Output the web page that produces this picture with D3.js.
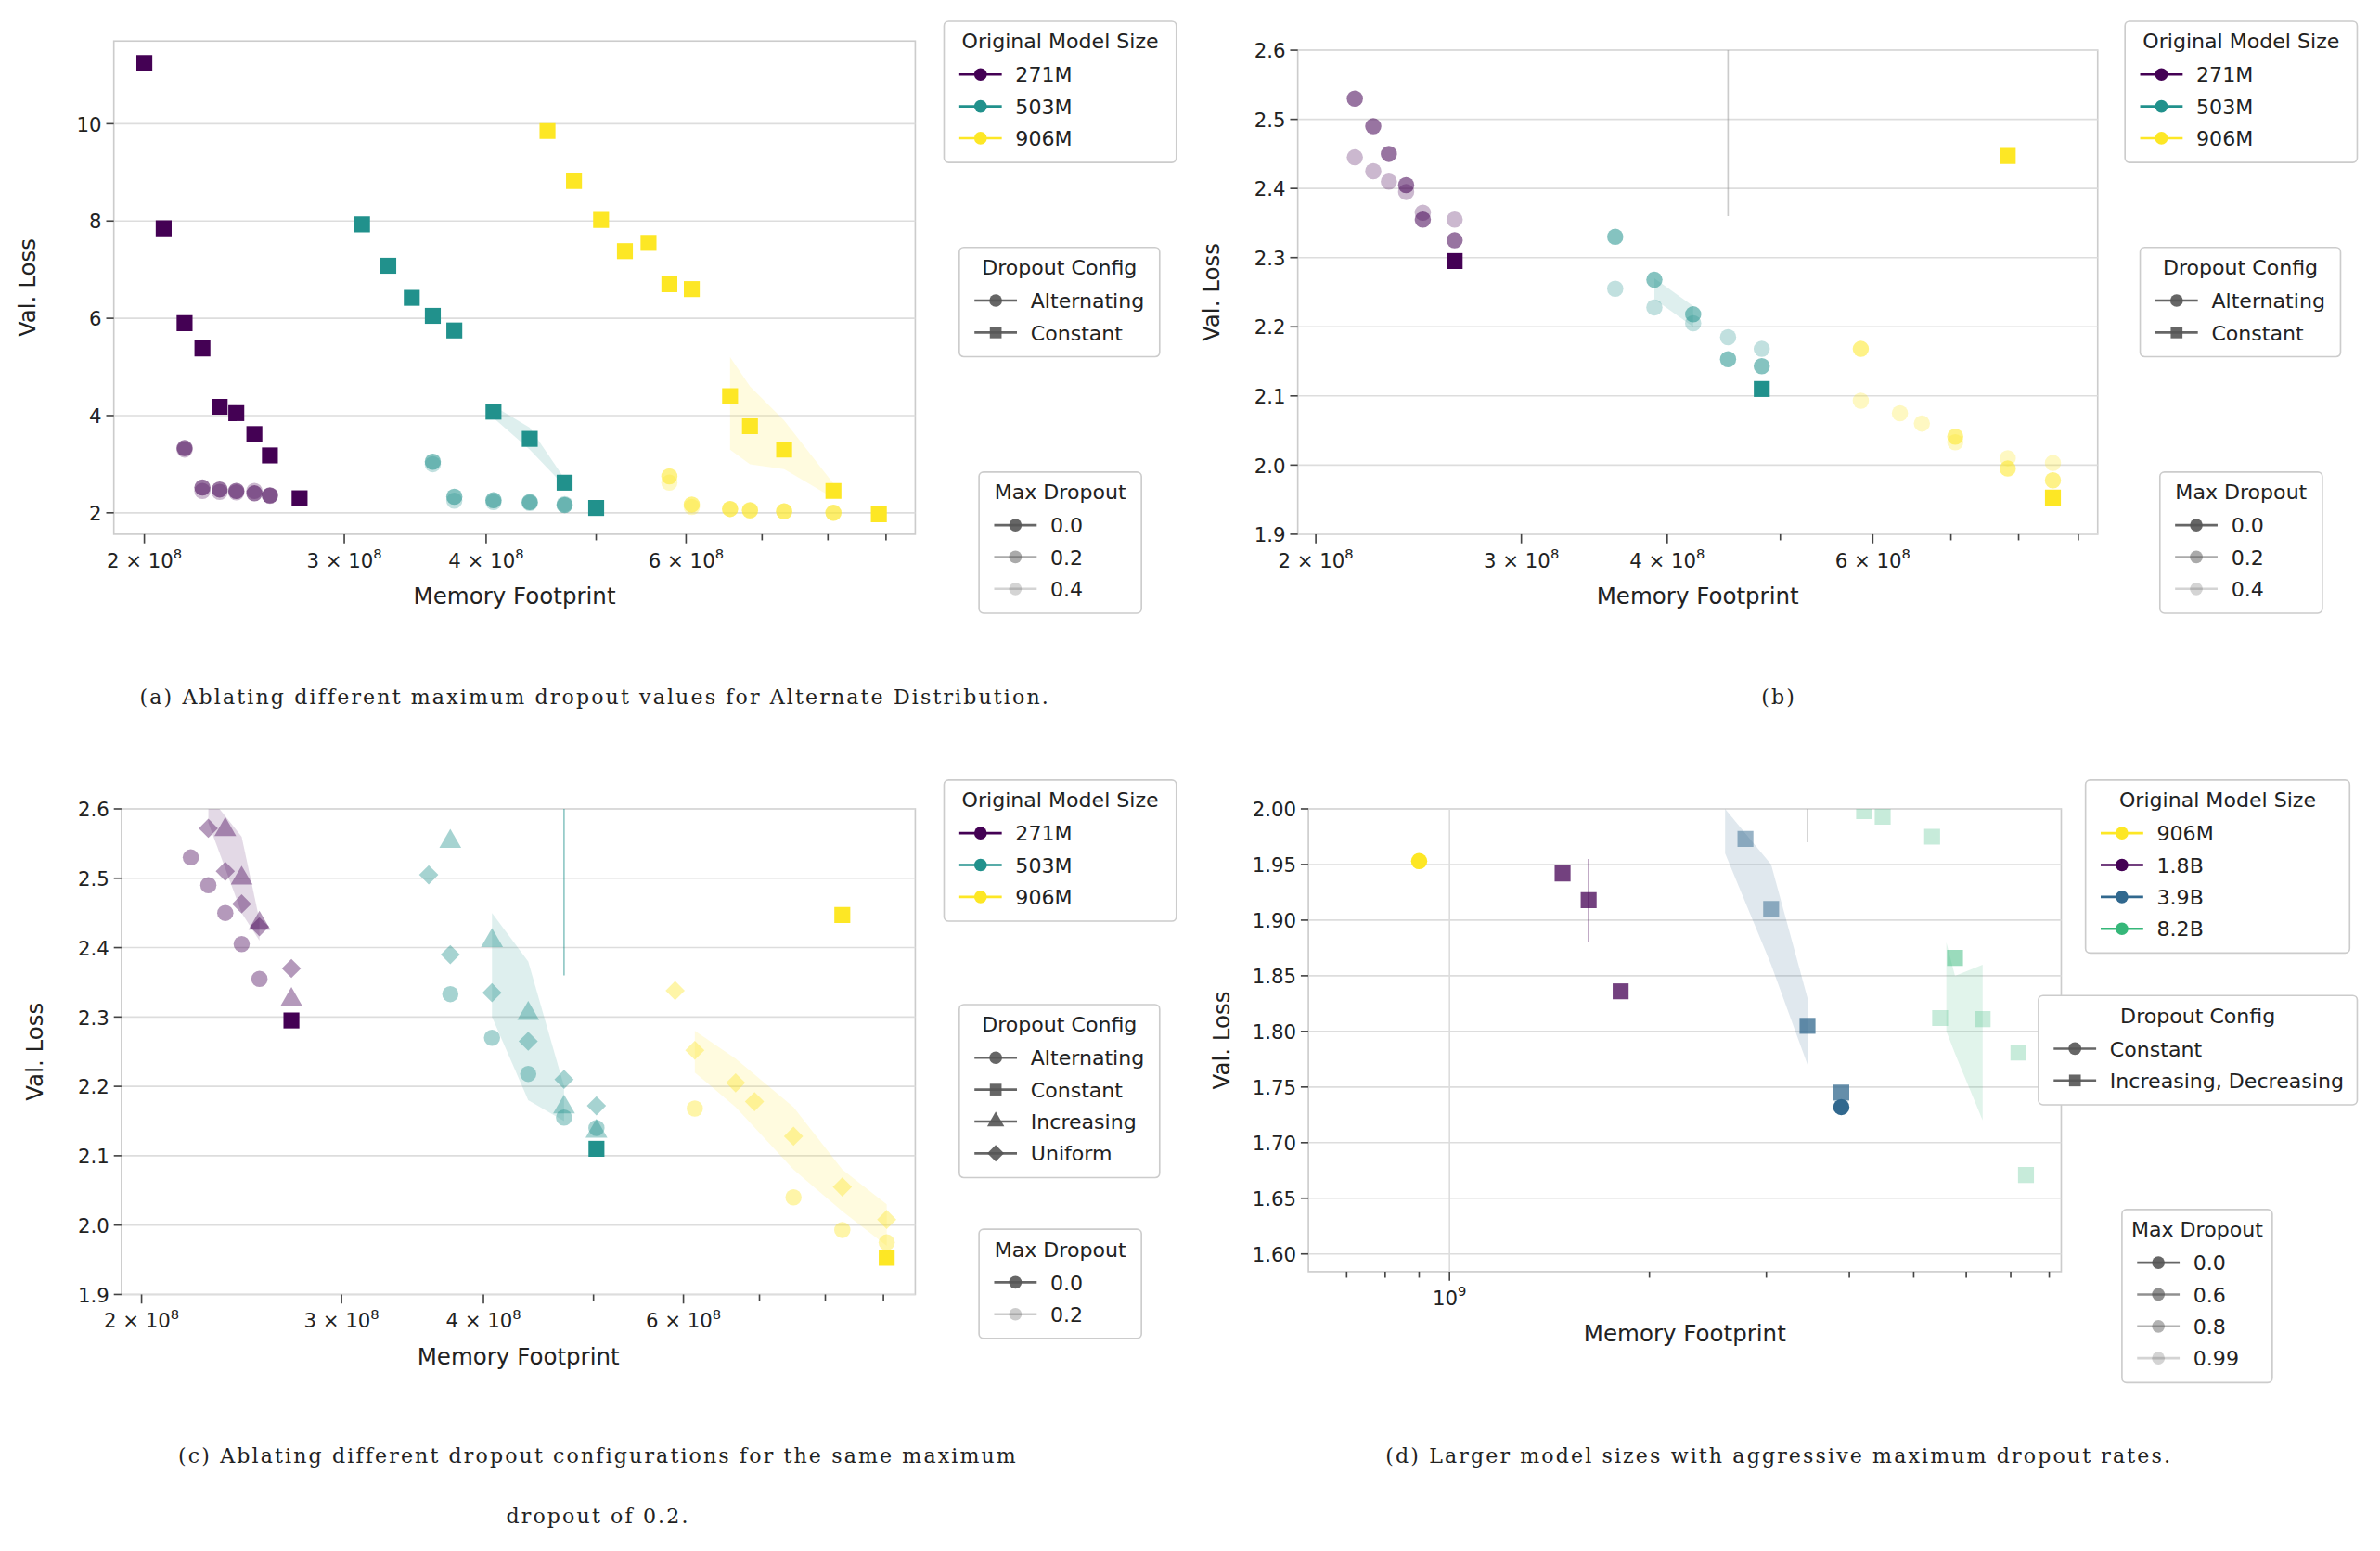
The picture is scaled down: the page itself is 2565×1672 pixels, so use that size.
<!DOCTYPE html>
<html><head><meta charset="utf-8">
<script src="https://cdn.jsdelivr.net/npm/d3@7"></script>
<style>body{margin:0;background:#fff}text{font-family:"DejaVu Sans",sans-serif;fill:#222}</style>
</head><body>
<svg id="c" width="2565" height="1672" viewBox="0 0 1568 1022"></svg>
<script>
// colours per model size
const sizeColor = {"271M":"#440154","503M":"#21918c","906M":"#fde725","1.8B":"#440154","3.9B":"#31688e","8.2B":"#35b779"};
const alphaA = {"0.0":1,"0.2":0.55,"0.4":0.28};
const alphaD = {"0.0":1,"0.6":0.75,"0.8":0.5,"0.99":0.28};

// panel (a): x in units of 1e8
const aSquares = [
  {size:"271M", x:[2.0,2.08,2.17,2.25,2.33,2.41,2.50,2.58,2.74], y:[11.25,7.85,5.9,5.38,4.18,4.05,3.62,3.18,2.3]},
  {size:"503M", x:[3.11,3.28,3.44,3.59,3.75,4.06,4.37,4.69,5.0], y:[7.93,7.08,6.42,6.05,5.75,4.08,3.52,2.62,2.1]},
  {size:"906M", x:[4.53,4.78,5.05,5.3,5.56,5.8,6.07,6.56,6.83,7.32,8.09,8.87], y:[9.85,8.82,8.02,7.38,7.55,6.7,6.6,4.4,3.78,3.3,2.45,1.97]}
];
const aCircles = [
  {size:"271M", d:"0.2", x:[2.17,2.25,2.33,2.41,2.50,2.58], y:[3.33,2.52,2.48,2.45,2.40,2.36]},
  {size:"271M", d:"0.4", x:[2.17,2.25,2.33,2.41,2.50,2.58], y:[3.30,2.45,2.43,2.42,2.45,2.35]},
  {size:"503M", d:"0.2", x:[3.59,3.75,4.06,4.37,4.69], y:[3.05,2.33,2.26,2.22,2.16]},
  {size:"503M", d:"0.4", x:[3.59,3.75,4.06,4.37,4.69], y:[3.0,2.25,2.22,2.20,2.18]},
  {size:"906M", d:"0.2", x:[5.8,6.07,6.56,6.83,7.32,8.09], y:[2.75,2.17,2.08,2.05,2.03,2.0]},
  {size:"906M", d:"0.4", x:[5.8,6.07,6.56,6.83,7.32,8.09], y:[2.62,2.12,2.08,2.06,2.03,2.0]}
];
const aBands = [
  {size:"503M", x:[4.06,4.37,4.69], lo:[3.95,3.3,2.55], hi:[4.2,3.75,2.7]},
  {size:"906M", x:[6.56,6.83,7.32,8.09], lo:[3.3,3.0,2.9,2.3], hi:[5.2,4.6,3.9,2.6]}
];

// panel (b)
const bSquares = [
  {size:"271M", x:[2.63], y:[2.295]},
  {size:"503M", x:[4.82], y:[2.11]},
  {size:"906M", x:[7.83,8.56], y:[2.447,1.953]}
];
const bCircles = [
  {size:"271M", d:"0.2", x:[2.16,2.24,2.31,2.39,2.47,2.63], y:[2.53,2.49,2.45,2.405,2.355,2.325]},
  {size:"271M", d:"0.4", x:[2.16,2.24,2.31,2.39,2.47,2.63], y:[2.445,2.425,2.41,2.395,2.365,2.355]},
  {size:"503M", d:"0.2", x:[3.61,3.90,4.21,4.51,4.82], y:[2.33,2.268,2.218,2.153,2.143]},
  {size:"503M", d:"0.4", x:[3.61,3.90,4.21,4.51,4.82], y:[2.255,2.228,2.205,2.185,2.168]},
  {size:"906M", d:"0.2", x:[5.86,7.06,7.83,8.56], y:[2.168,2.041,1.995,1.978]},
  {size:"906M", d:"0.4", x:[5.86,6.33,6.61,7.06,7.83,8.56], y:[2.093,2.075,2.06,2.033,2.01,2.003]}
];
const bBands = [
  {size:"503M", x:[3.90,4.21], lo:[2.24,2.2], hi:[2.27,2.23]}
];

// panel (c)
const cSquares = [
  {size:"271M", x:[2.71], y:[2.295]},
  {size:"503M", x:[5.03], y:[2.11]},
  {size:"906M", x:[8.28,9.06], y:[2.447,1.953]}
];
const cCircles = [
  {size:"271M", x:[2.21,2.29,2.37,2.45,2.54], y:[2.53,2.49,2.45,2.405,2.355]},
  {size:"503M", x:[3.74,4.07,4.38,4.71,5.03], y:[2.333,2.27,2.218,2.155,2.14]},
  {size:"906M", x:[6.14,7.5,8.28,9.06], y:[2.168,2.04,1.993,1.975]}
];
const cTriangles = [
  {size:"271M", x:[2.21,2.37,2.45,2.54,2.71], y:[2.61,2.57,2.50,2.435,2.325]},
  {size:"503M", x:[3.74,4.07,4.38,4.71,5.03], y:[2.553,2.41,2.305,2.17,2.135]}
];
const cDiamonds = [
  {size:"271M", x:[2.29,2.37,2.45,2.54,2.71], y:[2.572,2.51,2.463,2.43,2.37]},
  {size:"503M", x:[3.58,3.74,4.07,4.38,4.71,5.03], y:[2.505,2.39,2.335,2.265,2.21,2.172]},
  {size:"906M", x:[5.9,6.14,6.67,6.93,7.5,8.28,9.06], y:[2.338,2.252,2.205,2.178,2.128,2.055,2.008]}
];
const cBands = [
  {size:"271M", x:[2.29,2.45,2.54], lo:[2.58,2.45,2.41], hi:[2.62,2.56,2.44]},
  {size:"503M", x:[4.07,4.38,4.71], lo:[2.3,2.18,2.15], hi:[2.45,2.38,2.2]},
  {size:"906M", x:[6.14,6.67,7.5,8.28,9.06], lo:[2.22,2.17,2.08,2.02,1.97], hi:[2.28,2.24,2.17,2.08,2.03]}
];

// panel (d): x in units of 1e9
const dCircles = [
  {size:"906M", d:"0.0", x:[0.9], y:[1.953]},
  {size:"3.9B", d:"0.0", x:[3.89], y:[1.732]}
];
const dSquares = [
  {size:"1.8B", d:"0.6", x:[1.48,1.62,1.81], y:[1.942,1.918,1.836]},
  {size:"3.9B", d:"0.8", x:[2.79,3.05], y:[1.973,1.91]},
  {size:"3.9B", d:"0.6", x:[3.46,3.89], y:[1.805,1.745]},
  {size:"8.2B", d:"0.99", x:[4.21,4.49,5.33,5.48,6.35,7.19,7.38], y:[1.998,1.993,1.975,1.812,1.811,1.781,1.671]},
  {size:"8.2B", d:"0.8", x:[5.77], y:[1.866]}
];
const dBands = [
  {size:"3.9B", x:[2.6,3.05,3.46], lo:[1.96,1.86,1.77], hi:[2.0,1.95,1.83]},
  {size:"8.2B", x:[5.6,5.77,6.35], lo:[1.8,1.78,1.72], hi:[1.88,1.85,1.86]}
];

const svg = d3.select("#c");
const sup = (t, m, e) => { t.text(""); t.append("tspan").text(m + " \u00d7 " + "10"); t.append("tspan").attr("dy",-6).attr("font-size",9).text(e); };

function panel(o) {
  const g = svg.append("g");
  const x = d3.scaleLog().domain(o.xd).range([o.x0, o.x1]);
  const y = d3.scaleLinear().domain(o.yd).range([o.y1, o.y0]);
  g.append("rect").attr("x",o.x0).attr("y",o.y0).attr("width",o.x1-o.x0).attr("height",o.y1-o.y0)
    .attr("fill","none").attr("stroke","#ccc");
  o.yt.forEach(v => {
    g.append("line").attr("x1",o.x0).attr("x2",o.x1).attr("y1",y(v)).attr("y2",y(v)).attr("stroke","#ddd");
    g.append("line").attr("x1",o.x0-5).attr("x2",o.x0).attr("y1",y(v)).attr("y2",y(v)).attr("stroke","#444");
    g.append("text").attr("x",o.x0-8).attr("y",y(v)+5).attr("text-anchor","end").attr("font-size",13).text(o.yf(v));
  });
  (o.vgrid||[]).forEach(v => g.append("line").attr("x1",x(v)).attr("x2",x(v)).attr("y1",o.y0).attr("y2",o.y1).attr("stroke","#ddd"));
  o.minor.forEach(v => g.append("line").attr("x1",x(v)).attr("x2",x(v)).attr("y1",o.y1).attr("y2",o.y1+4).attr("stroke","#444"));
  o.major.forEach(([v,m,e]) => {
    g.append("line").attr("x1",x(v)).attr("x2",x(v)).attr("y1",o.y1).attr("y2",o.y1+6).attr("stroke","#444");
    const t = g.append("text").attr("x",x(v)).attr("y",o.y1+22).attr("text-anchor","middle").attr("font-size",13);
    if (m) sup(t, m, e); else { t.text("10"); t.append("tspan").attr("dy",-6).attr("font-size",9).text(e); }
  });
  g.append("text").attr("x",(o.x0+o.x1)/2).attr("y",o.y1+46).attr("text-anchor","middle").attr("font-size",15).text("Memory Footprint");
  g.append("text").attr("transform",`translate(${o.x0-52},${(o.y0+o.y1)/2}) rotate(-90)`).attr("text-anchor","middle").attr("font-size",15).text("Val. Loss");
  const clip = "cl" + o.x0 + "_" + o.y0;
  g.append("clipPath").attr("id",clip).append("rect").attr("x",o.x0).attr("y",o.y0).attr("width",o.x1-o.x0).attr("height",o.y1-o.y0);
  const p = g.append("g").attr("clip-path",`url(#${clip})`);
  (o.bands||[]).forEach(b => {
    const ar = d3.area().x((d,i)=>x(b.x[i])).y0((d,i)=>y(b.lo[i])).y1((d,i)=>y(b.hi[i]));
    p.append("path").attr("d",ar(b.x)).attr("fill",sizeColor[b.size]).attr("opacity",0.15);
  });
  (o.vlines||[]).forEach(l => p.append("line").attr("x1",x(l[0])).attr("x2",x(l[0])).attr("y1",y(l[1])).attr("y2",y(l[2])).attr("stroke",l[3]).attr("opacity",0.5));
  o.series.forEach(s => {
    const sym = d3.symbol().type(s.shape).size(s.area || 110);
    s.x.forEach((xv,i) => {
      p.append("path").attr("d",sym()).attr("transform",`translate(${x(xv)},${y(s.y[i])})${s.shape===d3.symbolSquare&&s.diamond?" rotate(45)":""}`)
        .attr("fill",sizeColor[s.size]).attr("fill-opacity",s.alpha).attr("stroke","none");
    });
  });
  return g;
}

function legend(x0, y0, w, title, items) {
  const h = 30 + items.length * 21;
  const g = svg.append("g");
  g.append("rect").attr("x",x0).attr("y",y0).attr("width",w).attr("height",h).attr("rx",3).attr("fill","#fff").attr("stroke","#ccc");
  g.append("text").attr("x",x0+w/2).attr("y",y0+18).attr("text-anchor","middle").attr("font-size",13.5).text(title);
  items.forEach((it,i) => {
    const yy = y0 + 35 + i*21;
    g.append("line").attr("x1",x0+10).attr("x2",x0+38).attr("y1",yy).attr("y2",yy).attr("stroke",it.c).attr("stroke-opacity",it.a).attr("stroke-width",1.6);
    const sym = d3.symbol().type(it.s||d3.symbolCircle).size(it.s===d3.symbolSquare?60:55);
    g.append("path").attr("d",sym()).attr("transform",`translate(${x0+24},${yy})${it.rot?" rotate(45)":""}`).attr("fill",it.c).attr("fill-opacity",it.a);
    g.append("text").attr("x",x0+47).attr("y",yy+5).attr("font-size",13.5).text(it.l);
  });
}

const minor8 = [5,7,8,9];
const major8 = [[2,"2","8"],[3,"3","8"],[4,"4","8"],[6,"6","8"]];

function sizeSeries(arr, shape, alphaFn, extra) {
  return arr.map(s => Object.assign({shape:shape, size:s.size, x:s.x, y:s.y, alpha:alphaFn(s)}, extra||{}));
}

// (a)
panel({x0:75,x1:603,y0:27,y1:352,xd:[1.88,9.55],yd:[1.56,11.7],yt:[2,4,6,8,10],yf:d3.format("d"),
  minor:minor8, major:major8, bands:aBands,
  series:[...sizeSeries(aCircles,d3.symbolCircle,s=>alphaA[s.d],{area:90}), ...sizeSeries(aSquares,d3.symbolSquare,()=>1)]});
// (b)
panel({x0:855,x1:1382,y0:33,y1:352,xd:[1.93,9.35],yd:[1.9,2.6],yt:[1.9,2.0,2.1,2.2,2.3,2.4,2.5,2.6],yf:d3.format(".1f"),
  minor:minor8, major:major8, bands:bBands, vlines:[[4.51,2.36,2.65,"#999"]],
  series:[...sizeSeries(bCircles,d3.symbolCircle,s=>alphaA[s.d],{area:90}), ...sizeSeries(bSquares,d3.symbolSquare,()=>1)]});
// (c)
panel({x0:80,x1:603,y0:533,y1:853,xd:[1.92,9.6],yd:[1.9,2.6],yt:[1.9,2.0,2.1,2.2,2.3,2.4,2.5,2.6],yf:d3.format(".1f"),
  minor:minor8, major:major8, bands:cBands, vlines:[[4.71,2.36,2.65,"#21918c"]],
  series:[...sizeSeries(cCircles,d3.symbolCircle,()=>0.4,{area:90}),
          ...sizeSeries(cTriangles,d3.symbolTriangle,()=>0.4,{area:90}),
          ...sizeSeries(cDiamonds,d3.symbolSquare,()=>0.4,{area:80,diamond:true}),
          ...sizeSeries(cSquares,d3.symbolSquare,()=>1)]});
// (d)
panel({x0:862,x1:1358,y0:533,y1:838,xd:[0.613,8.34],yd:[1.584,2.0],yt:[1.6,1.65,1.7,1.75,1.8,1.85,1.9,1.95,2.0],yf:d3.format(".2f"),
  minor:[0.7,0.8,0.9,2,3,4,5,6,7,8], major:[[1,null,"9"]], vgrid:[1], bands:dBands,
  vlines:[[1.62,1.88,1.955,"#440154"],[3.46,1.97,2.01,"#999"]],
  series:[...sizeSeries(dCircles,d3.symbolCircle,s=>alphaD[s.d],{area:90}), ...sizeSeries(dSquares,d3.symbolSquare,s=>alphaD[s.d])]});

const grey = "#555";
const sizeItems = ["271M","503M","906M"].map(k=>({l:k,c:sizeColor[k],a:1}));
const cfg2 = [{l:"Alternating",c:grey,a:0.9},{l:"Constant",c:grey,a:0.9,s:d3.symbolSquare}];
const md3 = [{l:"0.0",c:grey,a:0.9},{l:"0.2",c:grey,a:0.5},{l:"0.4",c:grey,a:0.25}];
legend(622,14,153,"Original Model Size",sizeItems);
legend(632,163,132,"Dropout Config",cfg2);
legend(645,311,107,"Max Dropout",md3);
legend(1400,14,153,"Original Model Size",sizeItems);
legend(1410,163,132,"Dropout Config",cfg2);
legend(1423,311,107,"Max Dropout",md3);
legend(622,514,153,"Original Model Size",sizeItems);
legend(632,662,132,"Dropout Config",[...cfg2,{l:"Increasing",c:grey,a:0.9,s:d3.symbolTriangle},{l:"Uniform",c:grey,a:0.9,s:d3.symbolSquare,rot:true}]);
legend(645,810,107,"Max Dropout",[{l:"0.0",c:grey,a:0.9},{l:"0.2",c:grey,a:0.3}]);
legend(1374,514,174,"Original Model Size",["906M","1.8B","3.9B","8.2B"].map(k=>({l:k,c:sizeColor[k],a:1})));
legend(1343,656,210,"Dropout Config",[{l:"Constant",c:grey,a:0.9},{l:"Increasing, Decreasing",c:grey,a:0.9,s:d3.symbolSquare}]);
legend(1398,797,99,"Max Dropout",[{l:"0.0",c:grey,a:0.9},{l:"0.6",c:grey,a:0.65},{l:"0.8",c:grey,a:0.45},{l:"0.99",c:grey,a:0.25}]);

// captions
const cap = (x,y,t) => svg.append("text").attr("x",x).attr("y",y).attr("text-anchor","middle")
  .style("font-family","'DejaVu Serif', serif").attr("font-size",13.5).attr("letter-spacing",1.3).text(t);
cap(392,464,"(a) Ablating different maximum dropout values for Alternate Distribution.");
cap(1172,464,"(b)");
cap(394,964,"(c) Ablating different dropout configurations for the same maximum");
cap(394,1004,"dropout of 0.2.");
cap(1172,964,"(d) Larger model sizes with aggressive maximum dropout rates.");
</script>
</body></html>
